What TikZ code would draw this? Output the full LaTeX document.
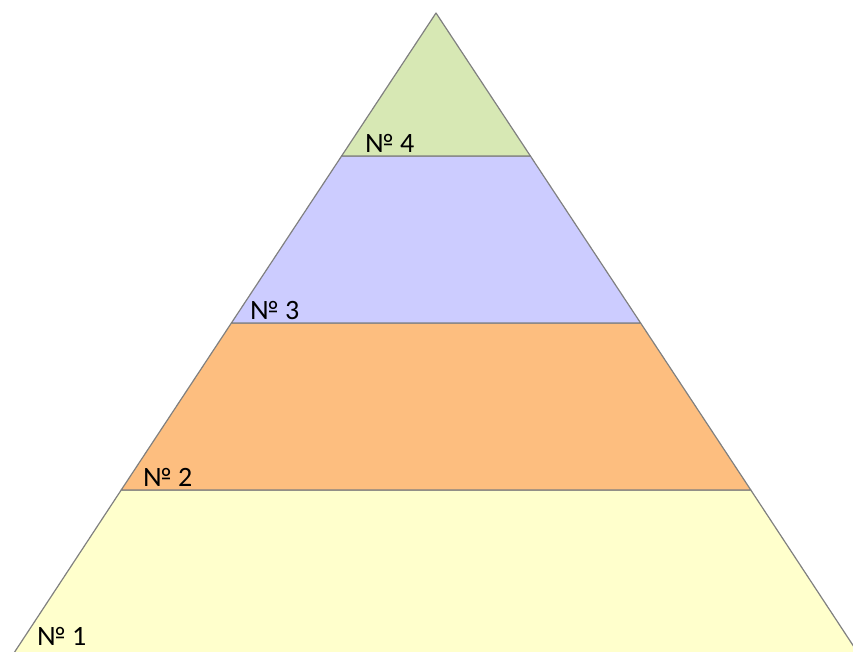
\documentclass[tikz,border=0pt]{standalone}
\usepackage{fontspec}
\setmainfont{Carlito}
\definecolor{edge}{HTML}{808080}
\definecolor{lvlA}{HTML}{FFFFCC}
\definecolor{lvlB}{HTML}{FDBE7F}
\definecolor{lvlC}{HTML}{CCCCFF}
\definecolor{lvlD}{HTML}{D7E8B4}
\begin{document}
\begin{tikzpicture}[x=1pt,y=-1pt,
  band/.style={draw=edge,line width=1.2pt,line join=round},
  lbl/.style={anchor=base west,inner sep=0pt,font=\fontsize{28}{32}\selectfont,text=black}]
\useasboundingbox (0,0) rectangle (853,651);
\clip (0,0) rectangle (853,651);
\coordinate (apex) at (436,13);
\coordinate (d1) at (341.6,156); \coordinate (d2) at (530.4,156);
\coordinate (c1) at (231.4,323); \coordinate (c2) at (640.6,323);
\coordinate (b1) at (121.2,490); \coordinate (b2) at (750.8,490);
\coordinate (a1) at (15,651); \coordinate (a2) at (857,651);
\coordinate (a1x) at (12,656); \coordinate (a2x) at (860,656);
\fill[lvlA] (b1) -- (b2) -- (a2x) -- (a1x) -- cycle;
\draw[band] (a1x) -- (b1) -- (b2) -- (a2x);
\filldraw[band,fill=lvlB] (c1) -- (c2) -- (b2) -- (b1) -- cycle;
\filldraw[band,fill=lvlC] (d1) -- (d2) -- (c2) -- (c1) -- cycle;
\filldraw[band,fill=lvlD] (apex) -- (d2) -- (d1) -- cycle;
\node[lbl] (t4) at (365,152) {№ 4};
\node[lbl] (t3) at (250,319) {№ 3};
\node[lbl] (t2) at (143,486) {№ 2};
\node[lbl] (t1) at (37,645) {№ 1};
\end{tikzpicture}
\end{document}
